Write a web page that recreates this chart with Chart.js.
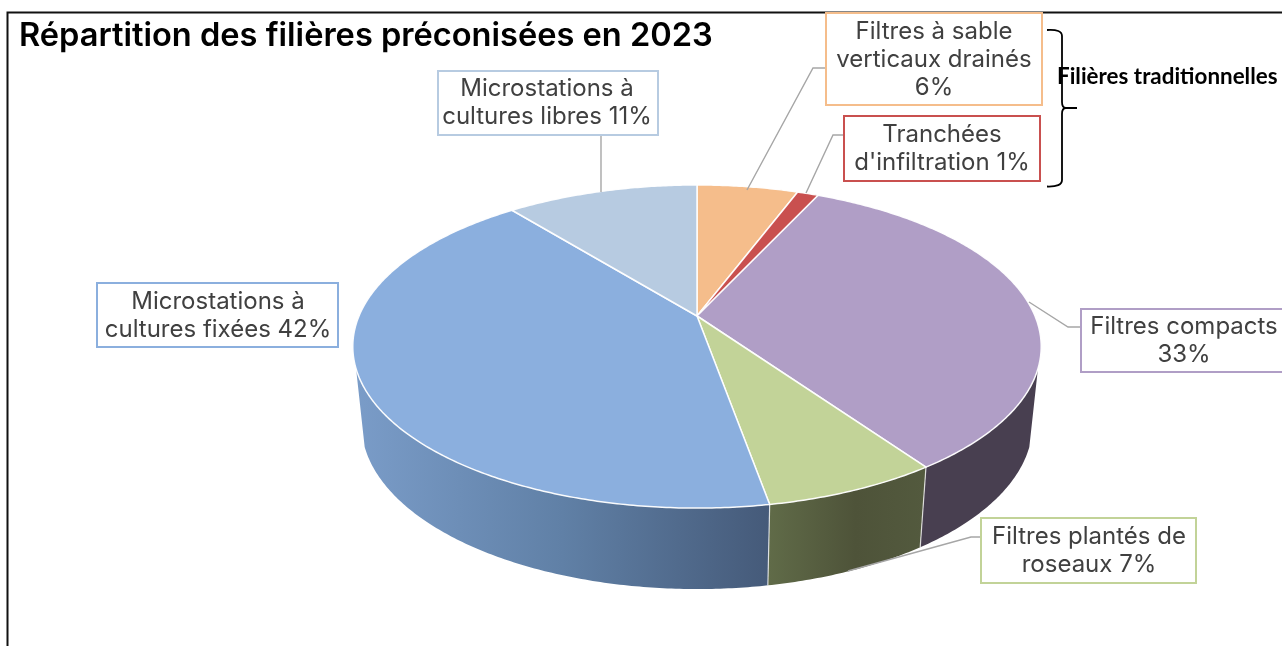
<!DOCTYPE html>
<html lang="fr">
<head>
<meta charset="utf-8">
<title>Répartition des filières préconisées en 2023</title>
<script src="https://cdn.jsdelivr.net/npm/chart.js@4"></script>
<style>
  html, body { margin: 0; background: #fff; overflow: hidden; }
  canvas { display: block; }
</style>
</head>
<body>
<canvas id="chart-filieres" width="1282" height="646"></canvas>
<script>
// ── Data ──────────────────────────────────────────────────────
const categories = [
  'Filtres à sable verticaux drainés',
  "Tranchées d'infiltration",
  'Filtres compacts',
  'Filtres plantés de roseaux',
  'Microstations à cultures fixées',
  'Microstations à cultures libres',
];
// Slice sizes; the labels print them rounded
const shares = [5.7, 1.2, 33.4, 6.9, 42, 10.8];
const sliceColors = ['#f5bd8b', '#c9504f', '#b09ec6', '#c2d398', '#8bafde', '#b7cbe1'];
const labelLines = [
  ['Filtres à sable', 'verticaux drainés', '6%'],
  ['Tranchées', "d'infiltration 1%"],
  ['Filtres compacts', '33%'],
  ['Filtres plantés de', 'roseaux 7%'],
  ['Microstations à', 'cultures fixées 42%'],
  ['Microstations à', 'cultures libres 11%'],
];
const titleText = 'Répartition des filières préconisées en 2023';
const bracketText = 'Filières traditionnelles';

// ── Layout (pixels) ───────────────────────────────────────────
// Top face and floor of the pie: same perspective, shifted down
const TOP = { cx: 697, cy: 316, rx: 338, ry: 155.8 };
const FLOOR = { cx: 697, cy: 393, rx: 329.5, ry: 159 };
const TILT = 0.189;
const WALL_FROM = 108.6 * Math.PI / 180; // angle where the side wall appears
const WALL_TO = 251.4 * Math.PI / 180;

const wallStops = [
  null,
  null,
  [[0, '#483f50'], [1, '#483f50']],
  [[0, '#606b48'], [0.55, '#4e5339'], [1, '#535a3e']],
  [[0, '#7a9cc8'], [0.5, '#6080a6'], [1, '#455a79']],
  null,
];

const labelBoxes = [
  { x: 826, y: 13, w: 216, h: 92, textX: 934, textY: 32 },
  { x: 844, y: 116, w: 196, h: 65, textX: 942, textY: 135 },
  { x: 1081, y: 309, w: 220, h: 63, textX: 1184, textY: 327 },
  { x: 981, y: 518, w: 215, h: 65, textX: 1089, textY: 537 },
  { x: 97, y: 283, w: 241, h: 64, textX: 218, textY: 302 },
  { x: 438, y: 71, w: 220, h: 64, textX: 547, textY: 89 },
];
const leaders = [
  [[826, 68], [813, 68], [747, 190]],
  [[844, 135], [833, 135], [806, 193]],
  [[1081, 327], [1068, 327], [1029, 302]],
  [[981, 537], [971, 537], [848, 571]],
  [],
  [[601, 135], [601, 192]],
];

const LABEL_FONT = '400 24px Inter, sans-serif';
const LINE_HEIGHT = 28;

// Angle is measured clockwise from the top of the pie
function project(face, angle) {
  const u = Math.sin(angle);
  const v = Math.cos(angle);
  const w = 1 + TILT * v;
  return { x: face.cx + face.rx * u / w, y: face.cy - face.ry * v / w };
}

function traceEdge(ctx, face, from, to) {
  const steps = Math.max(2, Math.ceil(Math.abs(to - from) / 0.01));
  for (let i = 0; i <= steps; i++) {
    const p = project(face, from + (to - from) * i / steps);
    ctx.lineTo(p.x, p.y);
  }
}

function drawWalls(ctx, arcs) {
  arcs.forEach((arc, i) => {
    const from = Math.max(arc.startAngle + Math.PI / 2, WALL_FROM);
    const to = Math.min(arc.endAngle + Math.PI / 2, WALL_TO);
    if (to <= from || !wallStops[i]) return;

    const a = project(TOP, from);
    const b = project(TOP, to);
    const gradient = ctx.createLinearGradient(Math.min(a.x, b.x), 0, Math.max(a.x, b.x), 0);
    // Stops run left to right on screen
    wallStops[i].forEach(([pos, color]) => gradient.addColorStop(pos, color));

    ctx.beginPath();
    traceEdge(ctx, TOP, from, to);
    traceEdge(ctx, FLOOR, to, from);
    ctx.closePath();
    ctx.fillStyle = gradient;
    ctx.fill();

    // Thin light seam between two wall sections
    if (from > WALL_FROM) {
      const top = project(TOP, from);
      const bottom = project(FLOOR, from);
      ctx.beginPath();
      ctx.moveTo(top.x, top.y);
      ctx.lineTo(bottom.x, bottom.y);
      ctx.strokeStyle = 'rgba(255,255,255,0.75)';
      ctx.lineWidth = 1.2;
      ctx.stroke();
    }
  });
}

function drawTopFace(ctx, arcs) {
  arcs.forEach((arc) => {
    ctx.beginPath();
    ctx.moveTo(TOP.cx, TOP.cy);
    traceEdge(ctx, TOP, arc.startAngle + Math.PI / 2, arc.endAngle + Math.PI / 2);
    ctx.closePath();
    ctx.fillStyle = arc.options.backgroundColor;
    ctx.fill();
    ctx.strokeStyle = 'rgba(255,255,255,0.95)';
    ctx.lineWidth = 1.5;
    ctx.lineJoin = 'round';
    ctx.stroke();
  });
}

function drawLabels(ctx) {
  ctx.save();
  leaders.forEach((points) => {
    if (!points.length) return;
    ctx.beginPath();
    points.forEach(([x, y], k) => (k ? ctx.lineTo(x, y) : ctx.moveTo(x, y)));
    ctx.strokeStyle = '#a6a6a6';
    ctx.lineWidth = 1.4;
    ctx.stroke();
  });

  labelBoxes.forEach((box, i) => {
    ctx.fillStyle = '#fff';
    ctx.fillRect(box.x, box.y, box.w, box.h);
    ctx.strokeStyle = sliceColors[i];
    ctx.lineWidth = 2;
    ctx.strokeRect(box.x, box.y, box.w, box.h);

    ctx.font = LABEL_FONT;
    ctx.fillStyle = '#404040';
    ctx.textAlign = 'center';
    ctx.textBaseline = 'middle';
    labelLines[i].forEach((line, k) => {
      ctx.fillText(line, box.textX, box.textY + k * LINE_HEIGHT);
    });
  });
  ctx.restore();
}

function drawBracket(ctx) {
  ctx.save();
  ctx.beginPath();
  ctx.moveTo(1047, 30);
  ctx.quadraticCurveTo(1062, 29, 1062, 36);
  ctx.lineTo(1062, 102);
  ctx.quadraticCurveTo(1062, 108, 1066, 108);
  ctx.lineTo(1077, 108);
  ctx.moveTo(1066, 108);
  ctx.quadraticCurveTo(1062, 108, 1062, 114);
  ctx.lineTo(1062, 180);
  ctx.quadraticCurveTo(1062, 187, 1047, 186.5);
  ctx.strokeStyle = '#000';
  ctx.lineWidth = 1.8;
  ctx.stroke();

  ctx.font = '700 22.4px Lato, sans-serif';
  ctx.fillStyle = '#000';
  ctx.textAlign = 'left';
  ctx.textBaseline = 'middle';
  ctx.fillText(bracketText, 1057, 77);
  ctx.restore();
}

// Replaces the flat pie drawing with a tilted pie built from the chart's own arcs
const pie3d = {
  id: 'pie3d',
  beforeDraw(chart) {
    const { ctx } = chart;
    ctx.save();
    ctx.beginPath();
    ctx.moveTo(7.5, 646);
    ctx.lineTo(7.5, 12.5);
    ctx.lineTo(1282, 12.5);
    ctx.strokeStyle = '#111';
    ctx.lineWidth = 2;
    ctx.stroke();
    ctx.restore();
  },
  beforeDatasetDraw(chart) {
    const { ctx } = chart;
    const arcs = chart.getDatasetMeta(0).data;
    ctx.save();
    drawWalls(ctx, arcs);
    drawTopFace(ctx, arcs);
    ctx.restore();
    drawLabels(ctx);
    drawBracket(ctx);
    return false;
  },
};

new Chart(document.getElementById('chart-filieres').getContext('2d'), {
  type: 'pie',
  data: {
    labels: categories,
    datasets: [{ data: shares, backgroundColor: sliceColors, borderWidth: 0 }],
  },
  options: {
    responsive: false,
    animation: false,
    layout: { padding: { left: 19, top: 17 } },
    plugins: {
      legend: { display: false },
      tooltip: { enabled: false },
      title: {
        display: true,
        text: titleText,
        align: 'start',
        color: '#000',
        font: { family: 'Inter, sans-serif', size: 32.6, weight: '600' },
        padding: 0,
      },
    },
  },
  plugins: [pie3d],
});
</script>
</body>
</html>
